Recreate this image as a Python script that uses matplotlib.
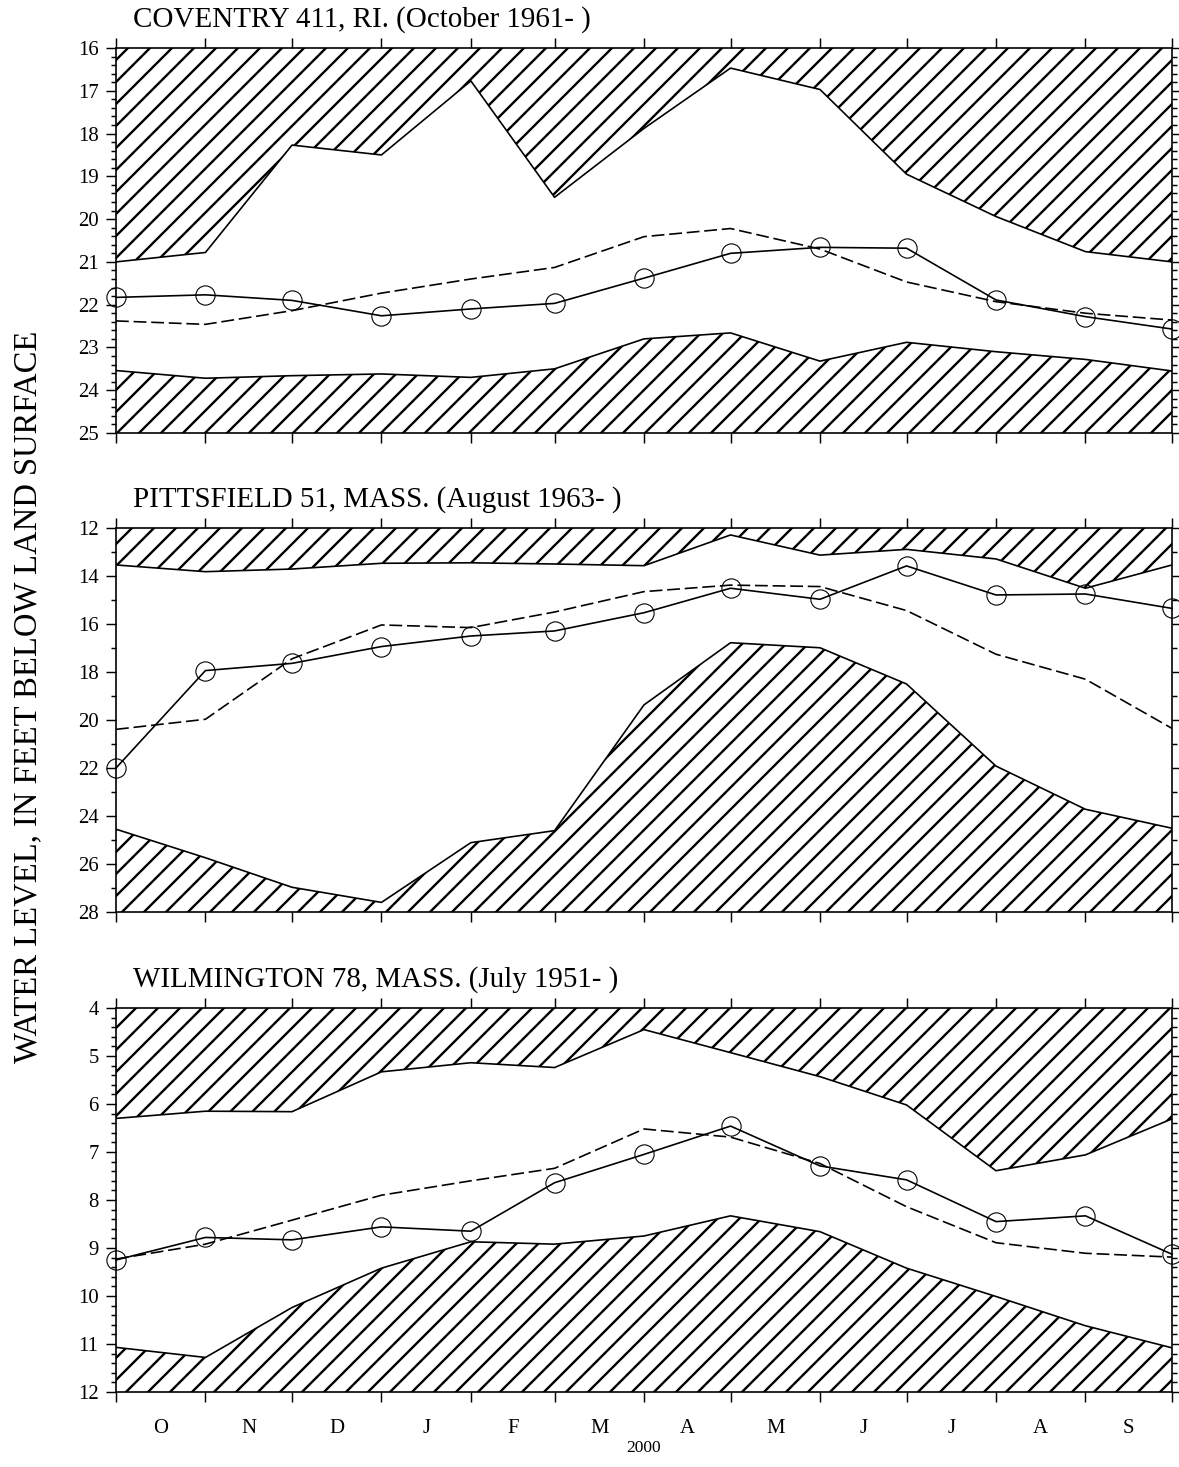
import numpy as np
import pandas as pd
import matplotlib
matplotlib.use("Agg")
import matplotlib.pyplot as plt
import matplotlib.dates as mdates
from matplotlib.ticker import MultipleLocator, FixedLocator, NullFormatter, FixedFormatter

plt.rcParams['font.family'] = ['Liberation Serif', 'DejaVu Serif']
plt.rcParams['hatch.linewidth'] = 1.3
plt.rcParams['lines.scale_dashes'] = False

# month starts, Oct 1999 - Oct 2000 (water year 2000)
months = pd.date_range("1999-10-01", "2000-10-01", freq="MS")
month_letters = ["O", "N", "D", "J", "F", "M", "A", "M", "J", "J", "A", "S"]

# depth to water, feet below land surface, at each month boundary
coventry_high = [21.0, 20.78, 18.27, 18.5, 16.77, 19.49, 17.88, 16.47, 16.97, 18.95, 19.94, 20.76, 21.0]
coventry_mean = [22.38, 22.46, 22.14, 21.73, 21.4, 21.13, 20.41, 20.22, 20.7, 21.47, 21.93, 22.2, 22.36]
coventry_low = [23.54, 23.72, 23.66, 23.62, 23.7, 23.5, 22.8, 22.66, 23.32, 22.88, 23.1, 23.28, 23.55]
coventry_2000 = [21.83, 21.77, 21.9, 22.26, 22.1, 21.97, 21.38, 20.8, 20.66, 20.68, 21.89, 22.28, 22.57]

pittsfield_high = [13.54, 13.82, 13.71, 13.47, 13.45, 13.5, 13.57, 12.29, 13.13, 12.89, 13.29, 14.51, 13.54]
pittsfield_mean = [20.39, 19.97, 17.45, 16.04, 16.15, 15.5, 14.65, 14.38, 14.44, 15.44, 17.26, 18.3, 20.35]
pittsfield_low = [24.55, 25.74, 26.97, 27.6, 25.11, 24.61, 19.37, 16.78, 16.99, 18.5, 21.92, 23.72, 24.51]
pittsfield_2000 = [22.0, 17.94, 17.64, 16.94, 16.5, 16.29, 15.53, 14.51, 14.97, 13.58, 14.79, 14.75, 15.35]

wilmington_high = [6.3, 6.15, 6.16, 5.33, 5.14, 5.24, 4.45, 4.93, 5.43, 6.02, 7.39, 7.06, 6.31]
wilmington_mean = [9.23, 8.92, 8.42, 7.9, 7.6, 7.34, 6.52, 6.69, 7.24, 8.14, 8.89, 9.11, 9.19]
wilmington_low = [11.07, 11.28, 10.24, 9.42, 8.87, 8.92, 8.75, 8.33, 8.66, 9.42, 10.01, 10.62, 11.08]
wilmington_2000 = [9.25, 8.78, 8.83, 8.56, 8.65, 7.64, 7.05, 6.46, 7.29, 7.58, 8.45, 8.33, 9.13]

W, H, DPI = 1179, 1467, 132
fig = plt.figure(figsize=(W / DPI, H / DPI), dpi=DPI)

x = mdates.date2num(months.to_pydatetime())
mid = (x[:-1] + x[1:]) / 2


def draw_panel(ax, title, high, mean, low, cur, ylim, major, minor, bottom):
    top, base = ylim
    ax.fill_between(x, top, high, facecolor="white", edgecolor="black",
                    hatch="//", linewidth=0)
    ax.fill_between(x, low, base, facecolor="white", edgecolor="black",
                    hatch="//", linewidth=0)
    ax.plot(x, high, color="black", lw=0.9)
    ax.plot(x, low, color="black", lw=0.9)
    ax.plot(x, mean, color="black", lw=0.9, dashes=(7, 2.6))
    ax.plot(x, cur, color="black", lw=0.9, marker="o", ms=10.5,
            mfc="none", mec="black", mew=0.6, clip_on=False, zorder=5)

    ax.set_xlim(x[0], x[-1])
    ax.set_ylim(base, top)
    ax.xaxis.set_major_locator(FixedLocator(x))
    ax.xaxis.set_major_formatter(NullFormatter())
    ax.xaxis.set_minor_locator(FixedLocator(mid))
    if bottom:
        ax.xaxis.set_minor_formatter(FixedFormatter(month_letters))
    else:
        ax.xaxis.set_minor_formatter(NullFormatter())
    ax.yaxis.set_major_locator(MultipleLocator(major))
    ax.yaxis.set_minor_locator(MultipleLocator(minor))

    ax.tick_params(which="both", direction="out", top=True, right=True,
                   labelsize=11.3, width=0.8)
    ax.tick_params(axis="x", which="major", length=5.5)
    ax.tick_params(axis="x", which="minor", length=0, pad=14.5, labelsize=11.3)
    ax.tick_params(axis="y", which="major", length=5.5, pad=4)
    ax.tick_params(axis="y", which="minor", length=2.8)
    for s in ax.spines.values():
        s.set_linewidth(0.9)

    ax.annotate(title, xy=(0.016, 1.0), xycoords="axes fraction",
                xytext=(0, 8), textcoords="offset points",
                ha="left", va="bottom", fontsize=15.8)


left = 116 / W
width = (1172 - 116) / W
panels = [
    (48, 433, "COVENTRY 411, RI. (October 1961- )", coventry_high, coventry_mean,
     coventry_low, coventry_2000, (16, 25), 1, 0.2),
    (528, 912, "PITTSFIELD 51, MASS. (August 1963- )", pittsfield_high, pittsfield_mean,
     pittsfield_low, pittsfield_2000, (12, 28), 2, 1),
    (1008, 1392, "WILMINGTON 78, MASS. (July 1951- )", wilmington_high, wilmington_mean,
     wilmington_low, wilmington_2000, (4, 12), 1, 0.2),
]
for i, (ptop, pbot, title, hi, mn, lo, cur, ylim, mj, mi) in enumerate(panels):
    ax = fig.add_axes([left, 1 - pbot / H, width, (pbot - ptop) / H])
    draw_panel(ax, title, hi, mn, lo, cur, ylim, mj, mi, bottom=(i == 2))
    if i == 2:
        ax.set_xlabel("2000", fontsize=9.5, labelpad=1.5)

fig.text(28 / W, 1 - 697 / H, "WATER LEVEL, IN FEET BELOW LAND SURFACE",
         rotation=90, ha="center", va="center", fontsize=17.8)

fig.savefig("out.png", dpi=DPI)
